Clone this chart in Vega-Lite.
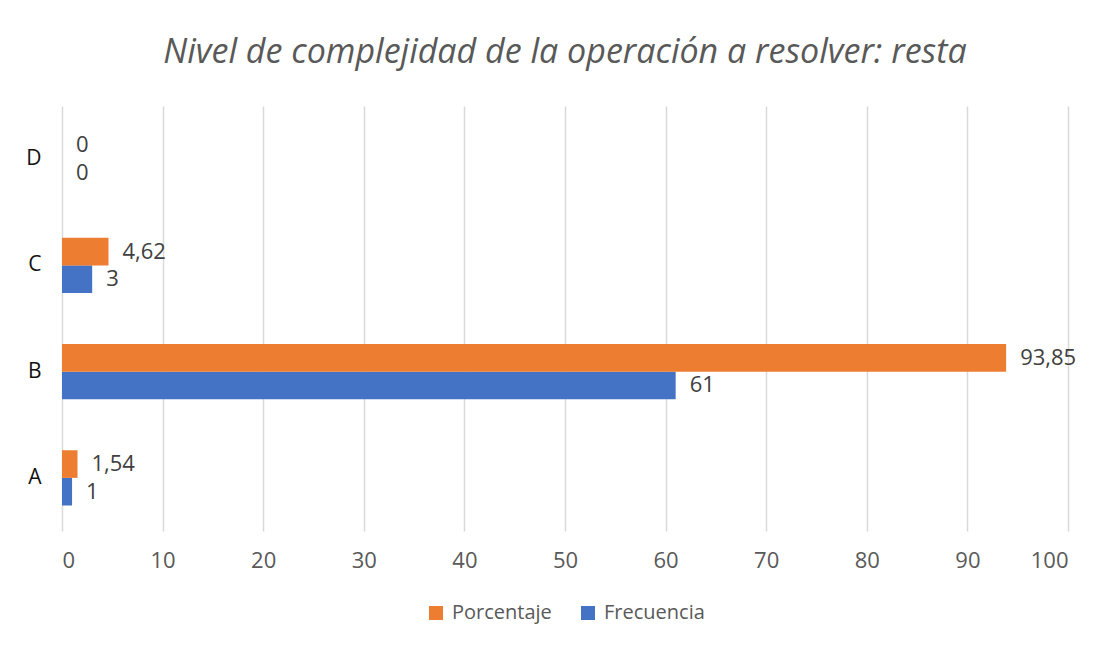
{
  "$schema": "https://vega.github.io/schema/vega-lite/v6.json",
  "width": 1006,
  "height": 425,
  "autosize": "none",
  "padding": {"left": 62, "top": 106, "right": 43, "bottom": 117},
  "background": "white",
  "config": {
    "locale": {"number": {"decimal": ",", "thousands": ".", "grouping": [3], "currency": ["", " €"]}},
    "view": {"stroke": null},
    "font": "Open Sans",
    "legend": {"layout": {"bottom": {"anchor": "middle"}}}
  },
  "title": {
    "text": "Nivel de complejidad de la operación a resolver: resta",
    "fontSize": 34,
    "fontStyle": "italic",
    "fontWeight": "normal",
    "color": "#595959",
    "font": "Open Sans",
    "anchor": "middle",
    "frame": "group",
    "offset": 36
  },
  "data": {
    "values": [
      {"categoria": "A", "serie": "Frecuencia", "valor": 1},
      {"categoria": "A", "serie": "Porcentaje", "valor": 1.54},
      {"categoria": "B", "serie": "Frecuencia", "valor": 61},
      {"categoria": "B", "serie": "Porcentaje", "valor": 93.85},
      {"categoria": "C", "serie": "Frecuencia", "valor": 3},
      {"categoria": "C", "serie": "Porcentaje", "valor": 4.62},
      {"categoria": "D", "serie": "Frecuencia", "valor": 0},
      {"categoria": "D", "serie": "Porcentaje", "valor": 0}
    ]
  },
  "encoding": {
    "y": {
      "field": "categoria",
      "type": "nominal",
      "sort": ["D", "C", "B", "A"],
      "scale": {"paddingInner": 0.48, "paddingOuter": 0.24},
      "axis": {
        "title": null,
        "ticks": false,
        "domain": false,
        "labelFontSize": 21,
        "labelColor": "#111111",
        "labelPadding": 21,
        "labelFont": "Open Sans"
      }
    },
    "yOffset": {"field": "serie", "type": "nominal", "sort": ["Porcentaje", "Frecuencia"]},
    "x": {
      "field": "valor",
      "type": "quantitative",
      "scale": {"domain": [0, 100], "nice": false},
      "axis": {
        "values": [0, 10, 20, 30, 40, 50, 60, 70, 80, 90, 100],
        "title": null,
        "ticks": false,
        "domain": false,
        "grid": true,
        "gridColor": "#d9d9d9",
        "gridWidth": 1.5,
        "labelFontSize": 22,
        "labelColor": "#595959",
        "labelPadding": 19,
        "labelFont": "Open Sans"
      }
    }
  },
  "layer": [
    {
      "mark": {"type": "bar"},
      "encoding": {
        "color": {
          "field": "serie",
          "type": "nominal",
          "scale": {"domain": ["Porcentaje", "Frecuencia"], "range": ["#ED7D31", "#4472C4"]},
          "legend": {
            "title": null,
            "orient": "bottom",
            "direction": "horizontal",
            "symbolType": "square",
            "symbolSize": 196,
            "symbolStrokeWidth": 0,
            "labelFontSize": 20,
            "labelColor": "#595959",
            "labelFont": "Open Sans",
            "labelOffset": 6,
            "columnPadding": 26,
            "offset": 32
          }
        }
      }
    },
    {
      "mark": {"type": "text", "align": "left", "baseline": "middle", "dx": 14, "fontSize": 22, "color": "#404040", "font": "Open Sans"},
      "encoding": {
        "text": {"field": "valor", "type": "quantitative", "format": ".2~f"}
      }
    }
  ]
}
